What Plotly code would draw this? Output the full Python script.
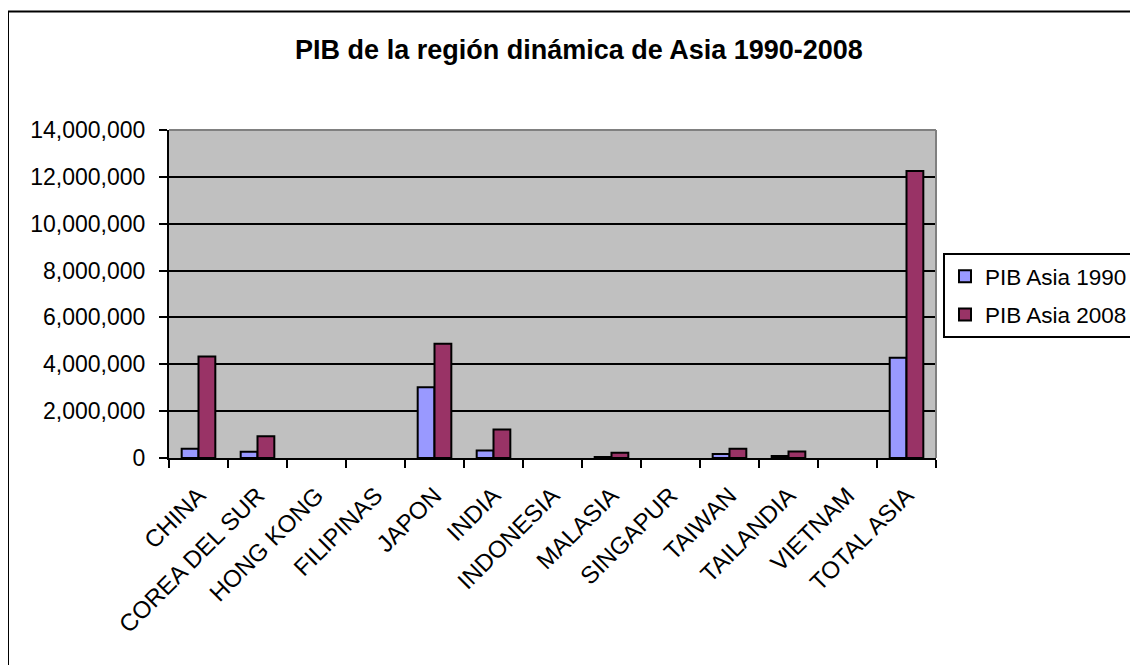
import plotly.graph_objects as go

categories = ["CHINA", "COREA DEL SUR", "HONG KONG", "FILIPINAS", "JAPON", "INDIA",
              "INDONESIA", "MALASIA", "SINGAPUR", "TAIWAN", "TAILANDIA", "VIETNAM", "TOTAL ASIA"]
pib_1990 = [390000, 264000, None, None, 3018000, 317000, None, 44000, None, 166000, 85000, None, 4284000]
pib_2008 = [4327000, 929000, None, None, 4879000, 1217000, None, 222000, None, 400000, 273000, None, 12248000]
y_ticks = [0, 2000000, 4000000, 6000000, 8000000, 10000000, 12000000, 14000000]

FONT = "Arial, Liberation Sans, sans-serif"

# figure is placed 8px into the page (body margin); plot area in page px: x 169-936, y 130-458
L, T, PW, PH = 161, 122, 767, 328

fig = go.Figure()
fig.add_trace(go.Bar(name="PIB Asia 1990", x=categories, y=pib_1990,
                     marker=dict(color="#9999FF", line=dict(color="black", width=2)),
                     legendgroup="a"))
fig.add_trace(go.Bar(name="PIB Asia 2008", x=categories, y=pib_2008,
                     marker=dict(color="#993366", line=dict(color="black", width=2)),
                     legendgroup="b"))

fig.update_layout(
    width=1138, height=665,
    margin=dict(l=L, r=1138 - L - PW, t=T, b=665 - T - PH),
    paper_bgcolor="white", plot_bgcolor="#C0C0C0",
    font=dict(family=FONT, color="black"),
    barmode="group", bargap=0.43, bargroupgap=0,
    title=dict(text="<b>PIB de la región dinámica de Asia 1990-2008</b>",
               x=571/1138, xanchor="center", y=1 - 42/665, yanchor="middle",
               font=dict(size=27, family=FONT, color="black")),
    showlegend=True,
    legend=dict(xref="container", yref="container",
                x=935/1138, xanchor="left", y=1 - 245/665, yanchor="top",
                bordercolor="black", borderwidth=2, bgcolor="white",
                font=dict(size=22.5, family=FONT), traceorder="grouped", tracegroupgap=6),
    xaxis=dict(type="category", showline=True, linecolor="black", linewidth=2,
               ticks="outside", ticklen=8, tickwidth=2, tickcolor="black",
               tickson="boundaries", tickangle=-45, showgrid=False,
               tickfont=dict(size=24, family=FONT), ticklabelstandoff=12,
               automargin=False),
    yaxis=dict(range=[0, 14000000], tickvals=y_ticks, tickformat=",d",
               showline=True, linecolor="black", linewidth=2,
               ticks="outside", ticklen=8, tickwidth=2, tickcolor="black",
               showgrid=True, gridcolor="black", gridwidth=2, zeroline=False,
               tickfont=dict(size=23, family=FONT), ticklabelstandoff=9,
               automargin=False),
    shapes=[
        dict(type="line", xref="paper", yref="paper", x0=0, x1=1, y0=1, y1=1,
             line=dict(color="#808080", width=2), layer="above"),
        dict(type="line", xref="paper", yref="paper", x0=1, x1=1, y0=0, y1=1,
             line=dict(color="#808080", width=2), layer="above"),
        dict(type="rect", xref="paper", yref="paper",
             x0=(0 - L)/PW, x1=(1160 - L)/PW, y0=(T + PH - 700)/PH, y1=(T + PH - 3.5)/PH,
             line=dict(color="black", width=2), fillcolor="rgba(0,0,0,0)", layer="above"),
    ],
)

fig.write_html("out.html")
